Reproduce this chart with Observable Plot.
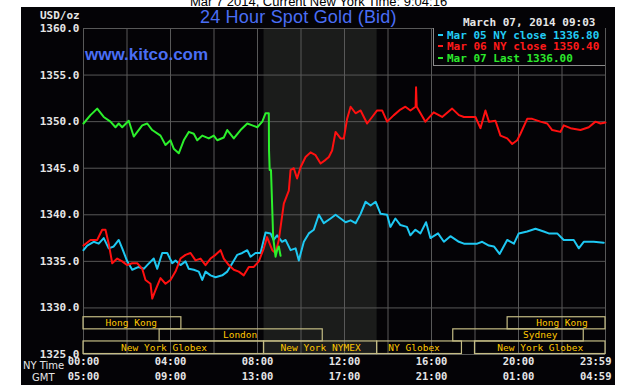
<!DOCTYPE html>
<html><head><meta charset="utf-8">
<script src="https://cdn.jsdelivr.net/npm/d3@7"></script>
<script src="https://cdn.jsdelivr.net/npm/@observablehq/plot@0.6"></script>
<style>
html,body{margin:0;padding:0;background:#fff;}
body{width:625px;height:389px;overflow:hidden;position:relative;font-family:"Liberation Sans",Arial,sans-serif;}
#toptext{position:absolute;left:0;width:637px;text-align:center;top:-5px;font-size:13px;line-height:13px;color:#000;white-space:nowrap;}
#panel{position:absolute;left:21px;top:7px;width:594px;height:378px;background:#040306;}
#chart{position:absolute;left:0;top:0;}
.mono{position:absolute;font-family:"DejaVu Sans Mono",monospace;font-weight:bold;font-size:11px;line-height:11px;white-space:pre;color:#e6e6e6;}
#title{position:absolute;left:200px;top:8px;font-size:18px;line-height:18px;color:#4a6ef5;letter-spacing:0.2px;white-space:nowrap;}
#kitco{position:absolute;left:85px;top:46px;font-size:17px;line-height:17px;font-weight:bold;color:#4a6ef5;white-space:nowrap;}
#legend{position:absolute;left:433px;top:28px;width:171px;height:37px;background:#040306;border-left:1px solid #8a8a8a;border-bottom:1px solid #8a8a8a;}
.leg{position:absolute;left:4px;font-family:"DejaVu Sans Mono",monospace;font-weight:bold;font-size:11px;line-height:11px;white-space:pre;}
.dash{display:inline-block;width:5px;height:2px;vertical-align:middle;margin-right:4px;position:relative;top:-1px;}
.axlab{position:absolute;font-family:"DejaVu Sans",sans-serif;font-size:10px;line-height:10px;color:#e6e6e6;white-space:nowrap;}
</style>
</head><body>
<div id="toptext"></div>
<div id="panel"></div>
<div id="chart"></div>
<div id="title"></div>
<div id="kitco"></div>
<div class="mono" id="unit" style="left:40px;top:10px;"></div>
<div class="mono" id="stamp" style="left:463px;top:17px;"></div>
<div id="legend"></div>
<div class="axlab" id="nylab" style="left:23px;top:361px;"></div>
<div class="axlab" id="gmtlab" style="left:32px;top:373px;"></div>
<script>
// ---- text ----
const topText = "Mar 7 2014, Current New York Time: 9:04:16";
const titleText = "24 Hour Spot Gold (Bid)";
const siteText = "www.kitco.com";
const unitText = "USD/oz";
const stampText = "March 07, 2014 09:03";
const legendLabels = ["Mar 05 NY close 1336.80", "Mar 06 NY close 1350.40", "Mar 07 Last 1336.00"];
const legendColors = ["#22ccf5", "#ff1a1a", "#2ce82c"];

// ---- axes ----
const yTicks = [1325, 1330, 1335, 1340, 1345, 1350, 1355, 1360];
const gridHours = [0, 2, 4, 6, 8, 10, 12, 14, 16, 18, 20, 22, 24];
const tickHours = [0, 4, 8, 12, 16, 20, 24];
const nyTickLabels = ["00:00", "04:00", "08:00", "12:00", "16:00", "20:00", "23:59"];
const gmtTickLabels = ["05:00", "09:00", "13:00", "17:00", "21:00", "01:00", "04:59"];

// ---- trading sessions ----
const sessionNames = ["Hong Kong", "London", "New York Globex", "New York NYMEX", "NY Globex", "Sydney", "New York Globex", "Hong Kong"];
const sessionStart = [0, 3.5, 0, 8.3, 13.5, 17, 18, 19.5];
const sessionEnd = [4.5, 11, 8.3, 13.5, 17.4, 23, 24, 24];
const sessionRow = [0, 1, 2, 2, 2, 1, 2, 0];
const sessionLabelHour = [2.2, 7.2, 3.7, 10.9, 15.2, 21.0, 21.0, 22.0];
const rowTop = [1329.0, 1327.7, 1326.4];
const rowBottom = [1327.7, 1326.4, 1325.05];

// ---- price series (hour of NY day, USD/oz) ----
const mar05 = [[0,1336.2],[0.17,1336.7],[0.47,1337.1],[0.70,1336.9],[0.93,1337.5],[1.16,1336.4],[1.39,1336.6],[1.62,1337.3],[1.78,1336.4],[2.01,1335.0],[2.24,1334.1],[2.54,1334.4],[2.77,1334.2],[2.93,1334.6],[3.23,1335.3],[3.39,1334.2],[3.62,1335.9],[3.85,1335.9],[4.08,1334.8],[4.23,1335.1],[4.46,1334.6],[4.69,1335.0],[4.84,1334.2],[5.07,1334.1],[5.30,1333.9],[5.46,1333.0],[5.61,1333.9],[5.84,1333.5],[6.07,1333.3],[6.38,1333.5],[6.61,1333.9],[6.84,1334.8],[7.07,1335.7],[7.30,1335.9],[7.53,1336.2],[7.68,1335.5],[7.91,1335.9],[8.14,1335.9],[8.37,1338.1],[8.6,1338.0],[8.74,1337.3],[8.9,1337.8],[9.13,1337.1],[9.29,1337.3],[9.52,1336.2],[9.75,1336.4],[9.9,1335.1],[10.13,1337.1],[10.36,1338.0],[10.59,1338.4],[10.82,1340.0],[11.05,1339.1],[11.36,1339.6],[11.59,1340.0],[11.82,1339.6],[12.05,1339.2],[12.28,1339.4],[12.51,1339.1],[12.74,1340.1],[12.97,1341.4],[13.2,1341.0],[13.43,1341.4],[13.66,1340.1],[13.96,1340.0],[14.11,1338.7],[14.34,1339.6],[14.57,1338.9],[14.87,1338.7],[15.03,1337.8],[15.26,1338.4],[15.49,1338.0],[15.75,1339.2],[15.95,1337.5],[16.3,1338.0],[16.57,1337.1],[16.87,1337.7],[17.26,1337.1],[17.49,1336.9],[18.1,1336.9],[18.33,1337.1],[18.64,1336.7],[18.87,1336.6],[19.13,1335.8],[19.48,1337.3],[19.79,1336.9],[20.01,1338.0],[20.4,1338.2],[20.78,1338.5],[21.16,1338.2],[21.39,1338.0],[21.78,1338.0],[22.08,1337.3],[22.54,1337.3],[22.77,1336.4],[23.0,1337.1],[23.46,1337.1],[23.92,1337.0]];
const mar06 = [[0,1336.7],[0.32,1337.3],[0.63,1337.3],[0.86,1338.4],[1.01,1338.4],[1.16,1336.9],[1.32,1334.8],[1.55,1335.3],[1.78,1335.0],[2.0,1334.6],[2.24,1334.8],[2.47,1334.8],[2.7,1334.2],[2.85,1333.0],[3.08,1332.6],[3.16,1331.0],[3.31,1331.9],[3.54,1333.2],[3.77,1332.6],[4.0,1333.0],[4.23,1333.9],[4.46,1335.3],[4.69,1335.7],[4.92,1335.9],[5.15,1335.1],[5.38,1335.3],[5.61,1334.6],[5.84,1335.3],[6.07,1335.7],[6.3,1336.2],[6.45,1335.3],[6.68,1334.6],[6.91,1334.1],[7.14,1333.9],[7.37,1333.5],[7.6,1334.4],[7.83,1334.4],[8.06,1335.0],[8.29,1336.4],[8.44,1337.6],[8.68,1336.2],[8.83,1335.9],[8.98,1337.3],[9.21,1341.2],[9.44,1342.6],[9.52,1344.8],[9.67,1345.0],[9.82,1343.9],[9.98,1345.1],[10.21,1346.2],[10.44,1346.7],[10.67,1346.4],[10.9,1345.5],[11.13,1345.9],[11.28,1346.2],[11.43,1346.9],[11.59,1348.9],[11.82,1348.2],[11.97,1348.2],[12.12,1350.3],[12.28,1351.6],[12.51,1350.9],[12.74,1351.2],[13.04,1349.8],[13.27,1350.5],[13.5,1351.2],[13.73,1351.2],[13.96,1350.0],[14.27,1350.7],[14.57,1351.3],[14.8,1351.6],[15.03,1351.2],[15.27,1351.6],[15.29,1353.7],[15.32,1351.6],[15.72,1350.0],[16.1,1351.0],[16.49,1350.5],[16.95,1351.4],[17.26,1350.7],[17.49,1350.5],[18.02,1350.5],[18.25,1349.3],[18.48,1351.2],[18.64,1350.0],[18.94,1350.1],[19.17,1348.5],[19.48,1348.2],[19.71,1347.6],[19.94,1348.0],[20.09,1348.7],[20.4,1350.3],[20.63,1350.3],[21.01,1350.0],[21.32,1349.8],[21.55,1349.1],[21.93,1348.9],[22.08,1349.6],[22.39,1349.3],[22.85,1349.1],[23.23,1349.4],[23.54,1350.0],[23.77,1349.8],[24,1349.9]];
const mar07 = [[0,1349.8],[0.32,1350.7],[0.63,1351.4],[0.93,1350.5],[1.24,1350.0],[1.47,1349.4],[1.62,1349.8],[1.78,1349.4],[2.08,1350.1],[2.31,1348.4],[2.70,1349.6],[2.93,1349.8],[3.16,1349.1],[3.54,1348.5],[3.77,1347.5],[4.0,1348.0],[4.15,1347.1],[4.38,1346.6],[4.61,1348.0],[4.84,1348.9],[5.07,1348.7],[5.23,1348.0],[5.46,1348.5],[5.76,1348.2],[5.99,1348.5],[6.15,1348.0],[6.45,1348.3],[6.61,1349.1],[6.91,1348.2],[7.22,1349.1],[7.53,1349.8],[7.76,1349.6],[7.99,1349.4],[8.22,1350.0],[8.37,1350.9],[8.52,1350.9],[8.53,1346.9],[8.56,1344.8],[8.62,1344.8],[8.68,1340.5],[8.72,1337.6],[8.83,1335.5],[8.9,1336.2],[8.98,1336.6],[9.06,1335.6]];

// ---- html texts ----
document.getElementById("toptext").textContent = topText;
document.getElementById("title").textContent = titleText;
document.getElementById("kitco").textContent = siteText;
document.getElementById("unit").textContent = unitText;
document.getElementById("stamp").textContent = stampText;
document.getElementById("nylab").textContent = "NY Time";
document.getElementById("gmtlab").textContent = "GMT";
const leg = document.getElementById("legend");
const legTops = [2, 13, 25];
legendLabels.forEach((t, i) => {
  const d = document.createElement("div");
  d.className = "leg";
  d.style.top = legTops[i] + "px";
  d.style.color = legendColors[i];
  const s = document.createElement("span");
  s.className = "dash";
  s.style.background = legendColors[i];
  d.appendChild(s);
  d.appendChild(document.createTextNode(t));
  leg.appendChild(d);
});

// ---- chart ----
const sessions = sessionNames.map((n, i) => ({name: n, x1: sessionStart[i], x2: sessionEnd[i], y1: rowTop[sessionRow[i]], y2: rowBottom[sessionRow[i]], lx: sessionLabelHour[i]}));
const nymex = sessions.filter(s => s.name === "New York NYMEX");
const monoFont = "DejaVu Sans Mono, monospace";
const idx = tickHours.map((_, i) => i);
const firstIdx = idx.slice(0, -1);
const lastIdx = idx.slice(-1);

const chart = Plot.plot({
  width: 625,
  height: 389,
  marginTop: 28,
  marginRight: 20,
  marginBottom: 35,
  marginLeft: 83,
  style: {background: "transparent", color: "#e6e6e6", overflow: "visible"},
  x: {domain: [0, 24], axis: null},
  y: {domain: [1325, 1360], axis: null},
  marks: [
    Plot.rect(nymex, {x1: "x1", x2: "x2", y1: 1325, y2: 1360, fill: "#1b1c1b"}),
    Plot.ruleY(yTicks, {stroke: "#585858", strokeWidth: 1}),
    Plot.ruleX(gridHours, {stroke: "#585858", strokeWidth: 1}),
    Plot.rect(sessions, {x1: "x1", x2: "x2", y1: "y1", y2: "y2", fill: "none", stroke: "#c4bc84", strokeWidth: 1.2}),
    Plot.text(sessions, {x: "lx", y: d => (d.y1 + d.y2) / 2, text: "name", fill: "#ffc800", fontFamily: monoFont, fontSize: 9.5}),
    Plot.line(mar05, {x: d => d[0], y: d => d[1], stroke: "#1ec8f2", strokeWidth: 2}),
    Plot.line(mar06, {x: d => d[0], y: d => d[1], stroke: "#ff1010", strokeWidth: 2}),
    Plot.line(mar07, {x: d => d[0], y: d => d[1], stroke: "#2cf02c", strokeWidth: 2}),
    Plot.text(yTicks, {x: 0, y: d => d, text: d => d.toFixed(1), textAnchor: "end", dx: -4, fill: "#e6e6e6", fontFamily: monoFont, fontWeight: "bold", fontSize: 11}),
    Plot.text(firstIdx, {x: i => tickHours[i], text: i => nyTickLabels[i], frameAnchor: "bottom", dy: 10, fill: "#e6e6e6", fontFamily: monoFont, fontWeight: "bold", fontSize: 10.5}),
    Plot.text(firstIdx, {x: i => tickHours[i], text: i => gmtTickLabels[i], frameAnchor: "bottom", dy: 25.5, fill: "#e6e6e6", fontFamily: monoFont, fontWeight: "bold", fontSize: 10.5}),
    Plot.text(lastIdx, {x: i => tickHours[i], text: i => nyTickLabels[i], frameAnchor: "bottom", dy: 10, dx: 6, textAnchor: "end", fill: "#e6e6e6", fontFamily: monoFont, fontWeight: "bold", fontSize: 10.5}),
    Plot.text(lastIdx, {x: i => tickHours[i], text: i => gmtTickLabels[i], frameAnchor: "bottom", dy: 25.5, dx: 6, textAnchor: "end", fill: "#e6e6e6", fontFamily: monoFont, fontWeight: "bold", fontSize: 10.5})
  ]
});
document.getElementById("chart").appendChild(chart);
</script>
</body></html>
